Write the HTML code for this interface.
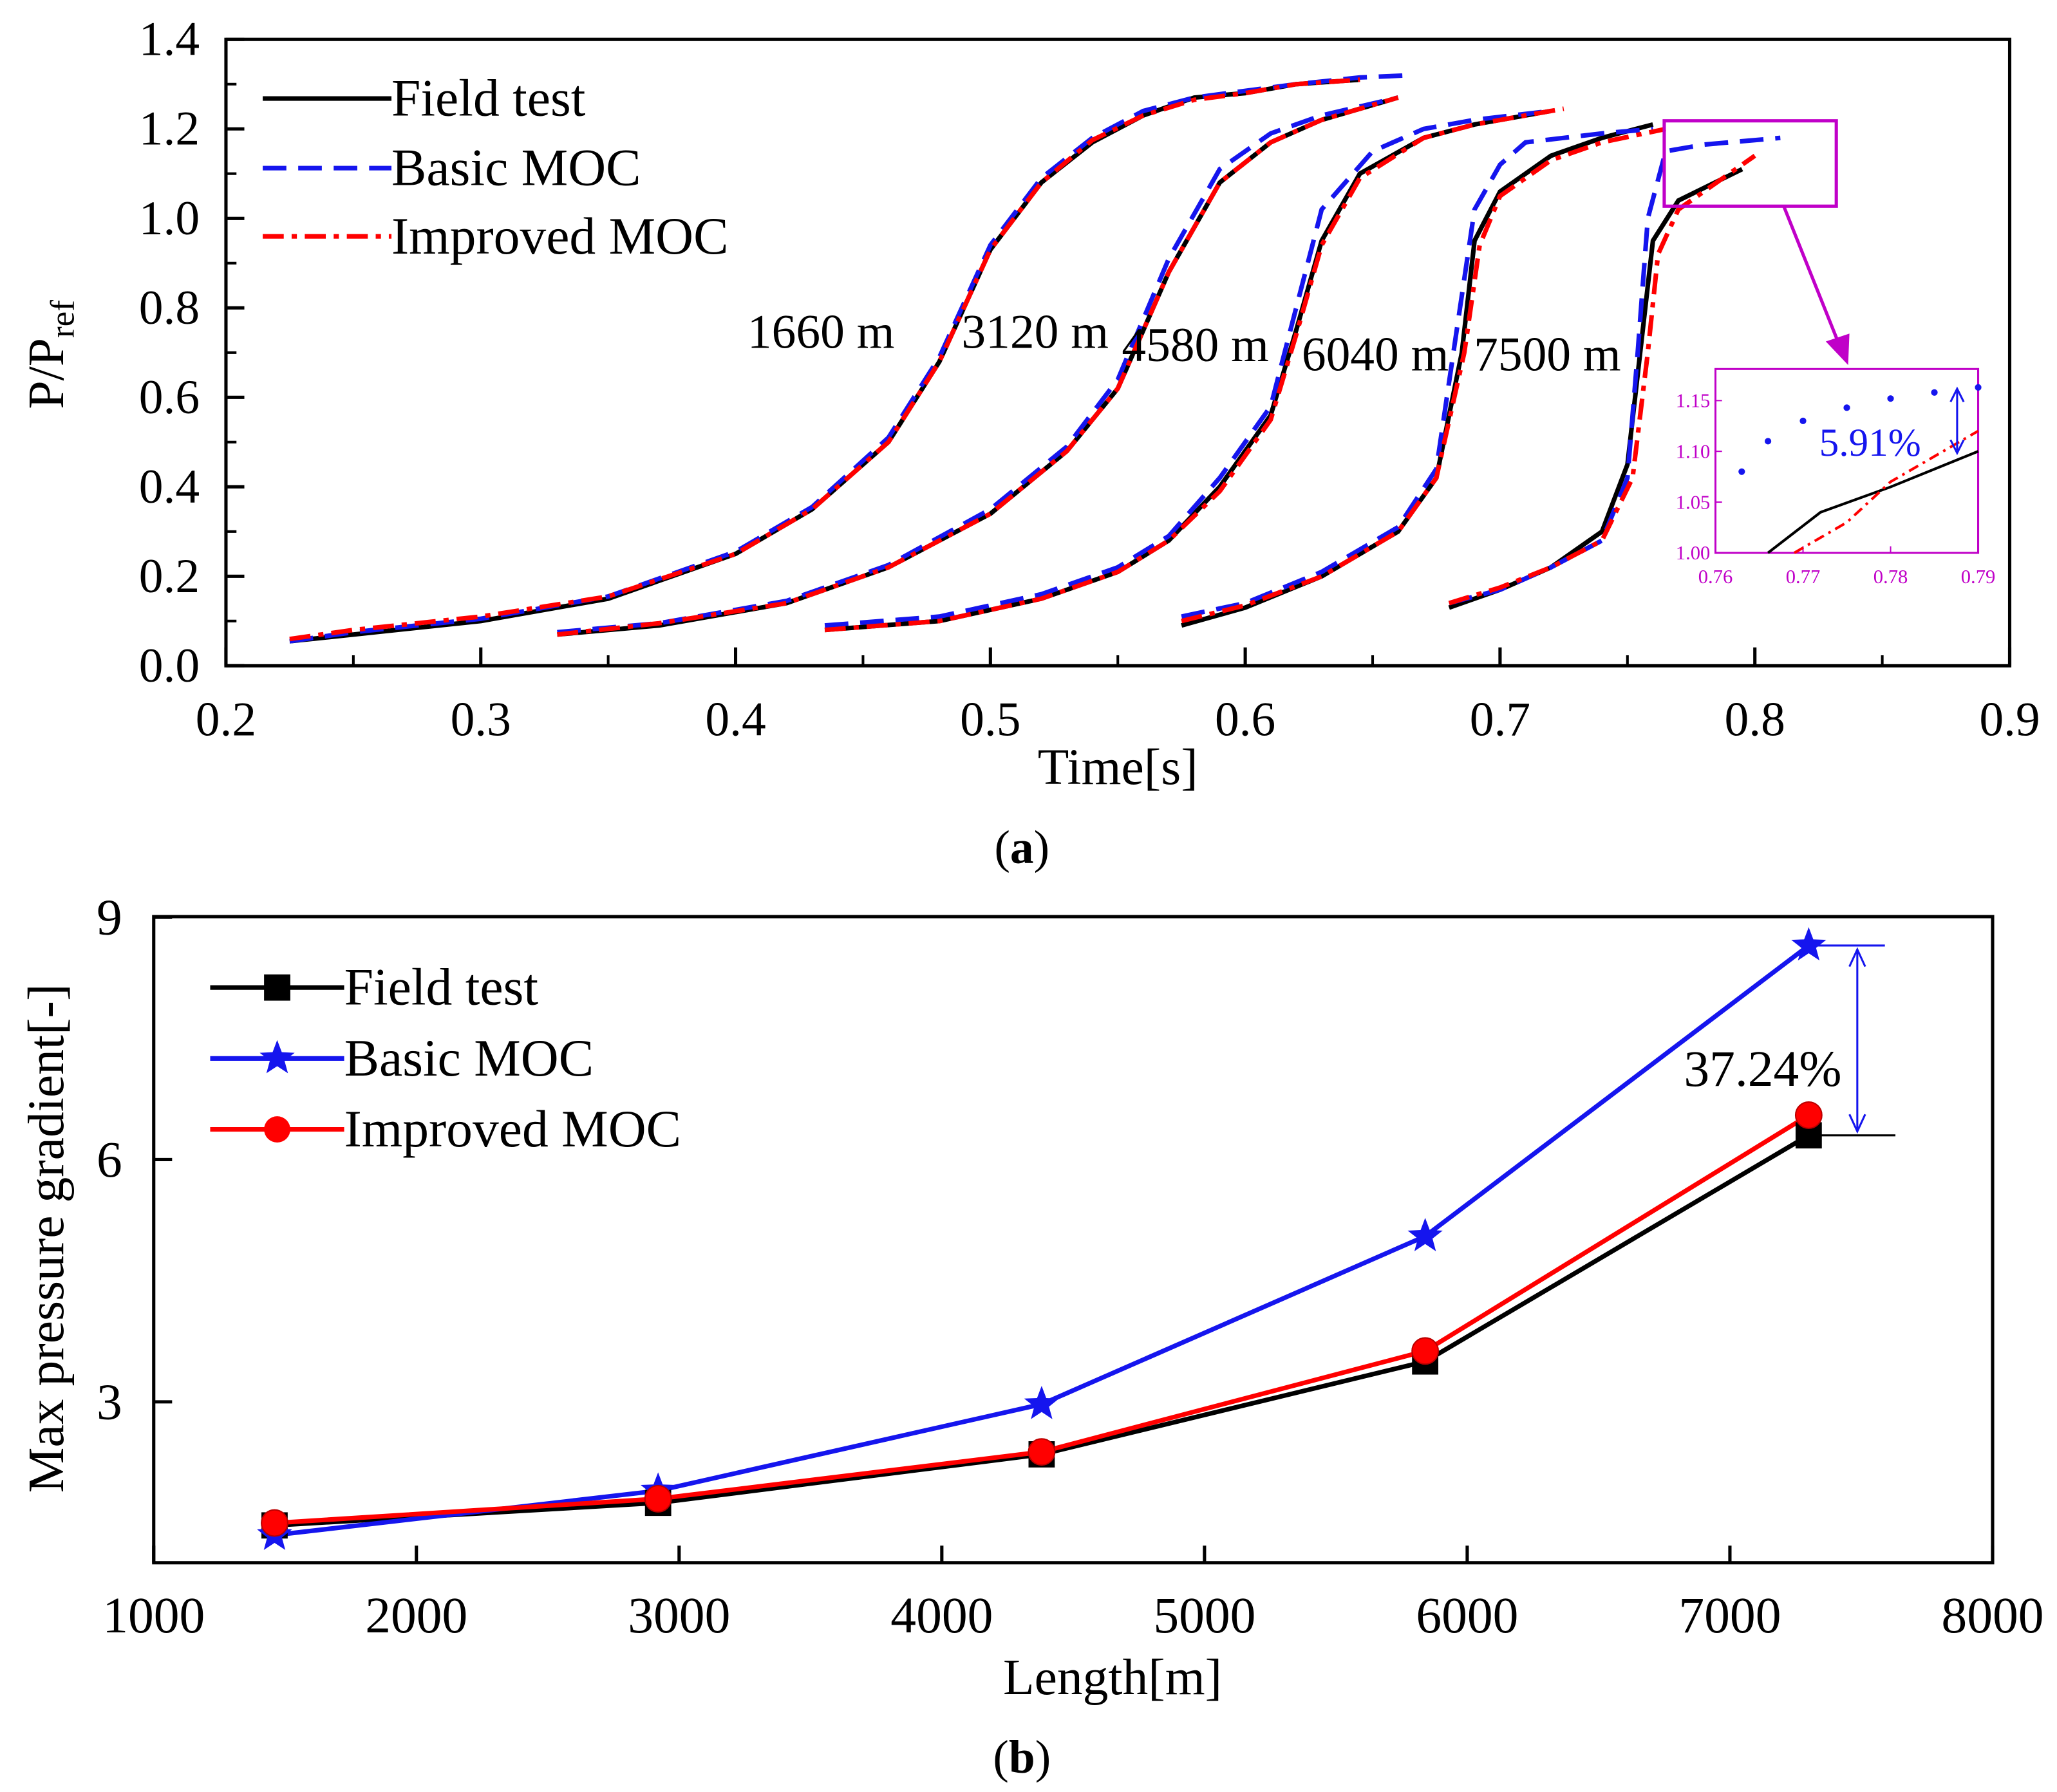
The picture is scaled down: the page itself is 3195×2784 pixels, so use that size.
<!DOCTYPE html>
<html><head><meta charset="utf-8"><style>
html,body{margin:0;padding:0;background:#fff}
svg{display:block}
text{font-family:"Liberation Serif",serif;fill:#000}
</style></head><body>
<svg id="s" width="3195" height="2784" viewBox="0 0 1566 1364.6">
<g id="a"></g><g id="b"></g>
</svg>
<script>
// ---------- Panel (a) data ----------
const fieldT1=[0.225,0.25,0.3,0.35,0.4,0.43,0.46,0.48,0.5,0.52,0.54,0.56,0.58,0.6,0.62,0.645];
const fieldV1=[0.055,0.07,0.1,0.15,0.25,0.35,0.5,0.68,0.93,1.08,1.17,1.23,1.27,1.28,1.30,1.31];
const basicT1=[0.225,0.25,0.3,0.35,0.4,0.43,0.46,0.48,0.5,0.52,0.54,0.56,0.58,0.6,0.62,0.645,0.665];
const basicV1=[0.055,0.075,0.105,0.155,0.255,0.355,0.51,0.69,0.94,1.09,1.18,1.24,1.27,1.285,1.30,1.315,1.32];
const impT1=[0.225,0.25,0.3,0.35,0.4,0.43,0.46,0.48,0.5,0.52,0.54,0.56,0.58,0.6,0.62,0.645];
const impV1=[0.06,0.08,0.11,0.155,0.25,0.35,0.5,0.68,0.93,1.08,1.175,1.23,1.265,1.28,1.30,1.31];
const fieldT2=[0.33,0.37,0.42,0.46,0.5,0.53,0.55,0.57,0.59,0.61,0.63,0.66];
const fieldV2=[0.07,0.09,0.14,0.22,0.34,0.48,0.62,0.88,1.08,1.17,1.22,1.27];
const basicT2=[0.33,0.37,0.42,0.46,0.5,0.53,0.55,0.57,0.59,0.61,0.63,0.66];
const basicV2=[0.075,0.095,0.145,0.225,0.35,0.49,0.64,0.91,1.11,1.19,1.23,1.27];
const impT2=[0.33,0.37,0.42,0.46,0.5,0.53,0.55,0.57,0.59,0.61,0.63,0.66];
const impV2=[0.07,0.095,0.14,0.22,0.34,0.48,0.62,0.88,1.08,1.17,1.22,1.27];
const fieldT3=[0.435,0.48,0.52,0.55,0.57,0.59,0.61,0.62,0.63,0.645,0.67,0.69,0.72];
const fieldV3=[0.08,0.1,0.15,0.21,0.28,0.4,0.56,0.75,0.95,1.1,1.18,1.21,1.24];
const basicT3=[0.435,0.48,0.52,0.55,0.57,0.59,0.61,0.62,0.63,0.65,0.67,0.69,0.72];
const basicV3=[0.09,0.11,0.16,0.22,0.29,0.42,0.58,0.8,1.02,1.15,1.2,1.22,1.24];
const impT3=[0.435,0.48,0.52,0.55,0.57,0.59,0.61,0.62,0.63,0.645,0.67,0.69,0.725];
const impV3=[0.08,0.1,0.15,0.21,0.28,0.39,0.55,0.74,0.94,1.09,1.18,1.21,1.245];
const fieldT4=[0.575,0.6,0.63,0.66,0.675,0.685,0.69,0.7,0.72,0.74,0.76];
const fieldV4=[0.09,0.13,0.2,0.3,0.42,0.7,0.95,1.06,1.14,1.18,1.21];
const basicT4=[0.575,0.6,0.63,0.66,0.675,0.683,0.69,0.7,0.71,0.74,0.76];
const basicV4=[0.11,0.14,0.21,0.31,0.44,0.75,1.02,1.12,1.17,1.19,1.2];
const impT4=[0.575,0.6,0.63,0.66,0.675,0.686,0.692,0.7,0.72,0.74,0.765];
const impV4=[0.1,0.135,0.2,0.3,0.42,0.7,0.94,1.05,1.13,1.17,1.2];
const fieldT5=[0.68,0.7,0.72,0.74,0.75,0.755,0.76,0.77,0.795];
const fieldV5=[0.13,0.17,0.22,0.3,0.45,0.7,0.95,1.04,1.11];
const basicT5=[0.68,0.7,0.72,0.74,0.75,0.754,0.758,0.765,0.78,0.8,0.81];
const basicV5=[0.14,0.17,0.22,0.28,0.42,0.7,1.0,1.15,1.165,1.175,1.18];
const impT5=[0.68,0.7,0.72,0.74,0.752,0.758,0.762,0.77,0.785,0.8];
const impV5=[0.14,0.175,0.22,0.28,0.42,0.7,0.92,1.02,1.08,1.14];
const xTicksA=["0.2","0.3","0.4","0.5","0.6","0.7","0.8","0.9"];
const yTicksA=["0.0","0.2","0.4","0.6","0.8","1.0","1.2","1.4"];
const curveLabels=["1660 m","3120 m","4580 m","6040 m","7500 m"];
// inset
const insBasicT=[0.763,0.766,0.770,0.775,0.780,0.785,0.790];
const insBasicV=[1.08,1.11,1.13,1.143,1.152,1.158,1.163];
const insFieldT=[0.766,0.772,0.780,0.790];
const insFieldV=[1.0,1.04,1.065,1.10];
const insImpT=[0.769,0.775,0.780,0.790];
const insImpV=[1.0,1.03,1.07,1.12];
// ---------- Panel (b) data ----------
const lengths=[1460,2920,4380,5840,7300];
const fieldG=[1.47,1.75,2.35,3.5,6.3];
const basicG=[1.35,1.9,2.97,5.05,8.65];
const impG=[1.5,1.8,2.38,3.63,6.55];
const xTicksB=[1000,2000,3000,4000,5000,6000,7000,8000];
const yTicksB=[3,6,9];

const NS="http://www.w3.org/2000/svg";
function mk(tag,attrs,parent,txt){const e=document.createElementNS(NS,tag);for(const k in attrs)e.setAttribute(k,attrs[k]);if(txt!==undefined)e.textContent=txt;parent.appendChild(e);return e;}
const A=document.getElementById('a'),B=document.getElementById('b');
const ax=t=>172+(t-0.2)*1940, ay=v=>507-v*340.7;
let r=mk('rect',{x:172,y:30,width:1358,height:477,fill:'none',stroke:'#000','stroke-width':2.5},A);

xTicksA.forEach(s=>{const x=ax(+s);mk('line',{x1:x,x2:x,y1:507,y2:493,stroke:'#000','stroke-width':2.5},A);
 const t=mk('text',{x:x,y:560,'font-size':37,'text-anchor':'middle'},A,s);});
for(let i=1;i<14;i+=2){const x=ax(0.2+i*0.05);mk('line',{x1:x,x2:x,y1:507,y2:499,stroke:'#000','stroke-width':2},A);}
yTicksA.forEach(s=>{const y=ay(+s);mk('line',{x1:172,x2:186,y1:y,y2:y,stroke:'#000','stroke-width':2.5},A);
 const t=mk('text',{x:152,y:y+12,'font-size':37,'text-anchor':'end'},A,s);});
for(let i=1;i<14;i+=2){const y=ay(i*0.1);mk('line',{x1:172,x2:180,y1:y,y2:y,stroke:'#000','stroke-width':2},A);}
let t=mk('text',{x:851,y:597,'font-size':39,'text-anchor':'middle'},A,'Time[s]');
t=mk('text',{transform:'translate(48,270) rotate(-90)','font-size':39,'text-anchor':'middle'},A);
t.innerHTML='P/P<tspan font-size="26" dy="8">ref</tspan>';
function poly(T,V,fx,fy,style,parent,name){const d=T.map((q,i)=>(i?'L':'M')+fx(q).toFixed(1)+','+fy(V[i]).toFixed(1)).join('');
 const p=mk('path',Object.assign({d:d,fill:'none'},style),parent);return p;}
const sField={stroke:'#000','stroke-width':3.5},sBasic={stroke:'#1515ee','stroke-width':3.5,'stroke-dasharray':'18,9'},sImp={stroke:'#f00','stroke-width':3.5,'stroke-dasharray':'16,6,4,6'};
const sets=[[fieldT1,fieldV1,basicT1,basicV1,impT1,impV1],[fieldT2,fieldV2,basicT2,basicV2,impT2,impV2],[fieldT3,fieldV3,basicT3,basicV3,impT3,impV3],[fieldT4,fieldV4,basicT4,basicV4,impT4,impV4],[fieldT5,fieldV5,basicT5,basicV5,impT5,impV5]];
sets.forEach((s,i)=>{poly(s[0],s[1],ax,ay,sField,A,'field-test-curve-'+(i+1));poly(s[2],s[3],ax,ay,sBasic,A,'basic-moc-curve-'+(i+1));poly(s[4],s[5],ax,ay,sImp,A,'improved-moc-curve-'+(i+1));});
const lblX=[625,788,910,1047,1178];
curveLabels.forEach((s,i)=>{const e=mk('text',{x:lblX[i],y:i<2?265:(i<3?275:282),'font-size':37,'text-anchor':'middle'},A,s);});
[['Field test',sField,75],['Basic MOC',sBasic,128],['Improved MOC',sImp,180]].forEach(([s,st,y])=>{
 const g=mk('g',{},A);
 mk('line',Object.assign({x1:200,x2:298,y1:y,y2:y},st),g);mk('text',{x:298,y:y+13,'font-size':40},g,s);});
r=mk('rect',{x:1267,y:92,width:131,height:65,fill:'none',stroke:'#c000c8','stroke-width':2.5},A);
mk('line',{x1:1358,y1:157,x2:1400,y2:262,stroke:'#c000c8','stroke-width':2.5},A);
mk('polygon',{points:'1407,278 1390,260 1408,254',fill:'#c000c8'},A);
const ix=q=>1306+(q-0.76)*6666.7, iy=v=>421-(v-1.0)*773;
const ins=mk('g',{},A);
mk('rect',{x:1306,y:281,width:200,height:140,fill:'#fff',stroke:'#c000c8','stroke-width':1.5},ins);
[0.76,0.77,0.78,0.79].forEach(q=>{mk('line',{x1:ix(q),x2:ix(q),y1:421,y2:416,stroke:'#c000c8'},ins);mk('text',{x:ix(q),y:444,'font-size':15,'text-anchor':'middle',style:'fill:#c000c8'},ins,q.toFixed(2));});
[1.0,1.05,1.10,1.15].forEach(v=>{mk('line',{x1:1306,x2:1311,y1:iy(v),y2:iy(v),stroke:'#c000c8'},ins);mk('text',{x:1302,y:iy(v)+5,'font-size':15,'text-anchor':'end',style:'fill:#c000c8'},ins,v.toFixed(2));});
insBasicT.forEach((q,i)=>{const c=mk('circle',{cx:ix(q),cy:iy(insBasicV[i]),r:2.5,fill:'#1515ee'},ins);});
poly(insFieldT,insFieldV,ix,iy,{stroke:'#000','stroke-width':2},ins,'inset-field-line');
poly(insImpT,insImpV,ix,iy,{stroke:'#f00','stroke-width':2,'stroke-dasharray':'8,4,2,4'},ins,'inset-improved-line');
mk('line',{x1:1490,x2:1490,y1:298,y2:343,stroke:'#1515ee','stroke-width':1.5},ins);
mk('path',{d:'M1485,306 L1490,296 L1495,306 M1485,335 L1490,345 L1495,335',fill:'none',stroke:'#1515ee','stroke-width':1.5},ins);
mk('text',{x:1385,y:347,'font-size':30,style:'fill:#1515ee'},ins,'5.91%');
t=mk('text',{x:778,y:657,'font-size':36,'text-anchor':'middle'},A);t.innerHTML='(<tspan font-weight="bold">a</tspan>)';

const bx=L=>117+(L-1000)*0.2, by=v=>1252-v*61.5;
r=mk('rect',{x:117,y:698,width:1400,height:492,fill:'none',stroke:'#000','stroke-width':2.5},B);
xTicksB.forEach(L=>{const x=bx(L);mk('line',{x1:x,x2:x,y1:1190,y2:1177,stroke:'#000','stroke-width':2.5},B);
 const e=mk('text',{x:x,y:1243,'font-size':39,'text-anchor':'middle'},B,L);});
yTicksB.forEach(v=>{const y=by(v);mk('line',{x1:117,x2:131,y1:y,y2:y,stroke:'#000','stroke-width':2.5},B);
 const e=mk('text',{x:93,y:y+13,'font-size':39,'text-anchor':'end'},B,v);});
t=mk('text',{x:847,y:1290,'font-size':39,'text-anchor':'middle'},B,'Length[m]');
t=mk('text',{transform:'translate(48,943) rotate(-90)','font-size':39,'text-anchor':'middle'},B,'Max pressure gradient[-]');
mk('line',{x1:1375,x2:1435,y1:by(8.65),y2:by(8.65),stroke:'#1515ee','stroke-width':1.5},B);
mk('line',{x1:1375,x2:1443,y1:by(6.3),y2:by(6.3),stroke:'#000','stroke-width':1.5},B);
mk('line',{x1:1414,x2:1414,y1:by(8.65)+3,y2:by(6.3)-3,stroke:'#1515ee','stroke-width':1.5},B);
mk('path',{d:`M1408,${by(8.65)+16} L1414,${by(8.65)+3} L1420,${by(8.65)+16} M1408,${by(6.3)-16} L1414,${by(6.3)-3} L1420,${by(6.3)-16}`,fill:'none',stroke:'#1515ee','stroke-width':1.5},B);
t=mk('text',{x:1342,y:827,'font-size':39,'text-anchor':'middle'},B,'37.24%');
function star(cx,cy,R,parent){let p=[];for(let i=0;i<10;i++){const a=-Math.PI/2+i*Math.PI/5,rr=i%2?R*0.42:R;p.push((cx+rr*Math.cos(a)).toFixed(1)+','+(cy+rr*Math.sin(a)).toFixed(1));}return mk('polygon',{points:p.join(' '),fill:'#1515ee'},parent);}
poly(lengths,fieldG,bx,by,{stroke:'#000','stroke-width':3.5},B,'field-test-line');
poly(lengths,basicG,bx,by,{stroke:'#1515ee','stroke-width':3.5},B,'basic-moc-line');
poly(lengths,impG,bx,by,{stroke:'#f00','stroke-width':3.5},B,'improved-moc-line');
lengths.forEach((L,i)=>{let e=mk('rect',{x:bx(L)-10,y:by(fieldG[i])-10,width:20,height:20,fill:'#000'},B);
 e=star(bx(L),by(basicG[i]),14,B);
 e=mk('circle',{cx:bx(L),cy:by(impG[i]),r:10,fill:'#f00',stroke:'#b00','stroke-width':1},B);});
[['Field test','#000',752,'sq'],['Basic MOC','#1515ee',806,'st'],['Improved MOC','#f00',860,'ci']].forEach(([s,c,y,m])=>{
 const g=mk('g',{},B);
 mk('line',{x1:160,x2:262,y1:y,y2:y,stroke:c,'stroke-width':3.5},g);
 if(m==='sq')mk('rect',{x:201,y:y-10,width:20,height:20,fill:c},g);else if(m==='st')star(211,y,14,g);else mk('circle',{cx:211,cy:y,r:10,fill:c},g);
 mk('text',{x:262,y:y+13,'font-size':40},g,s);});
t=mk('text',{x:778,y:1350,'font-size':36,'text-anchor':'middle'},B);t.innerHTML='(<tspan font-weight="bold">b</tspan>)';
</script>
</body></html>
